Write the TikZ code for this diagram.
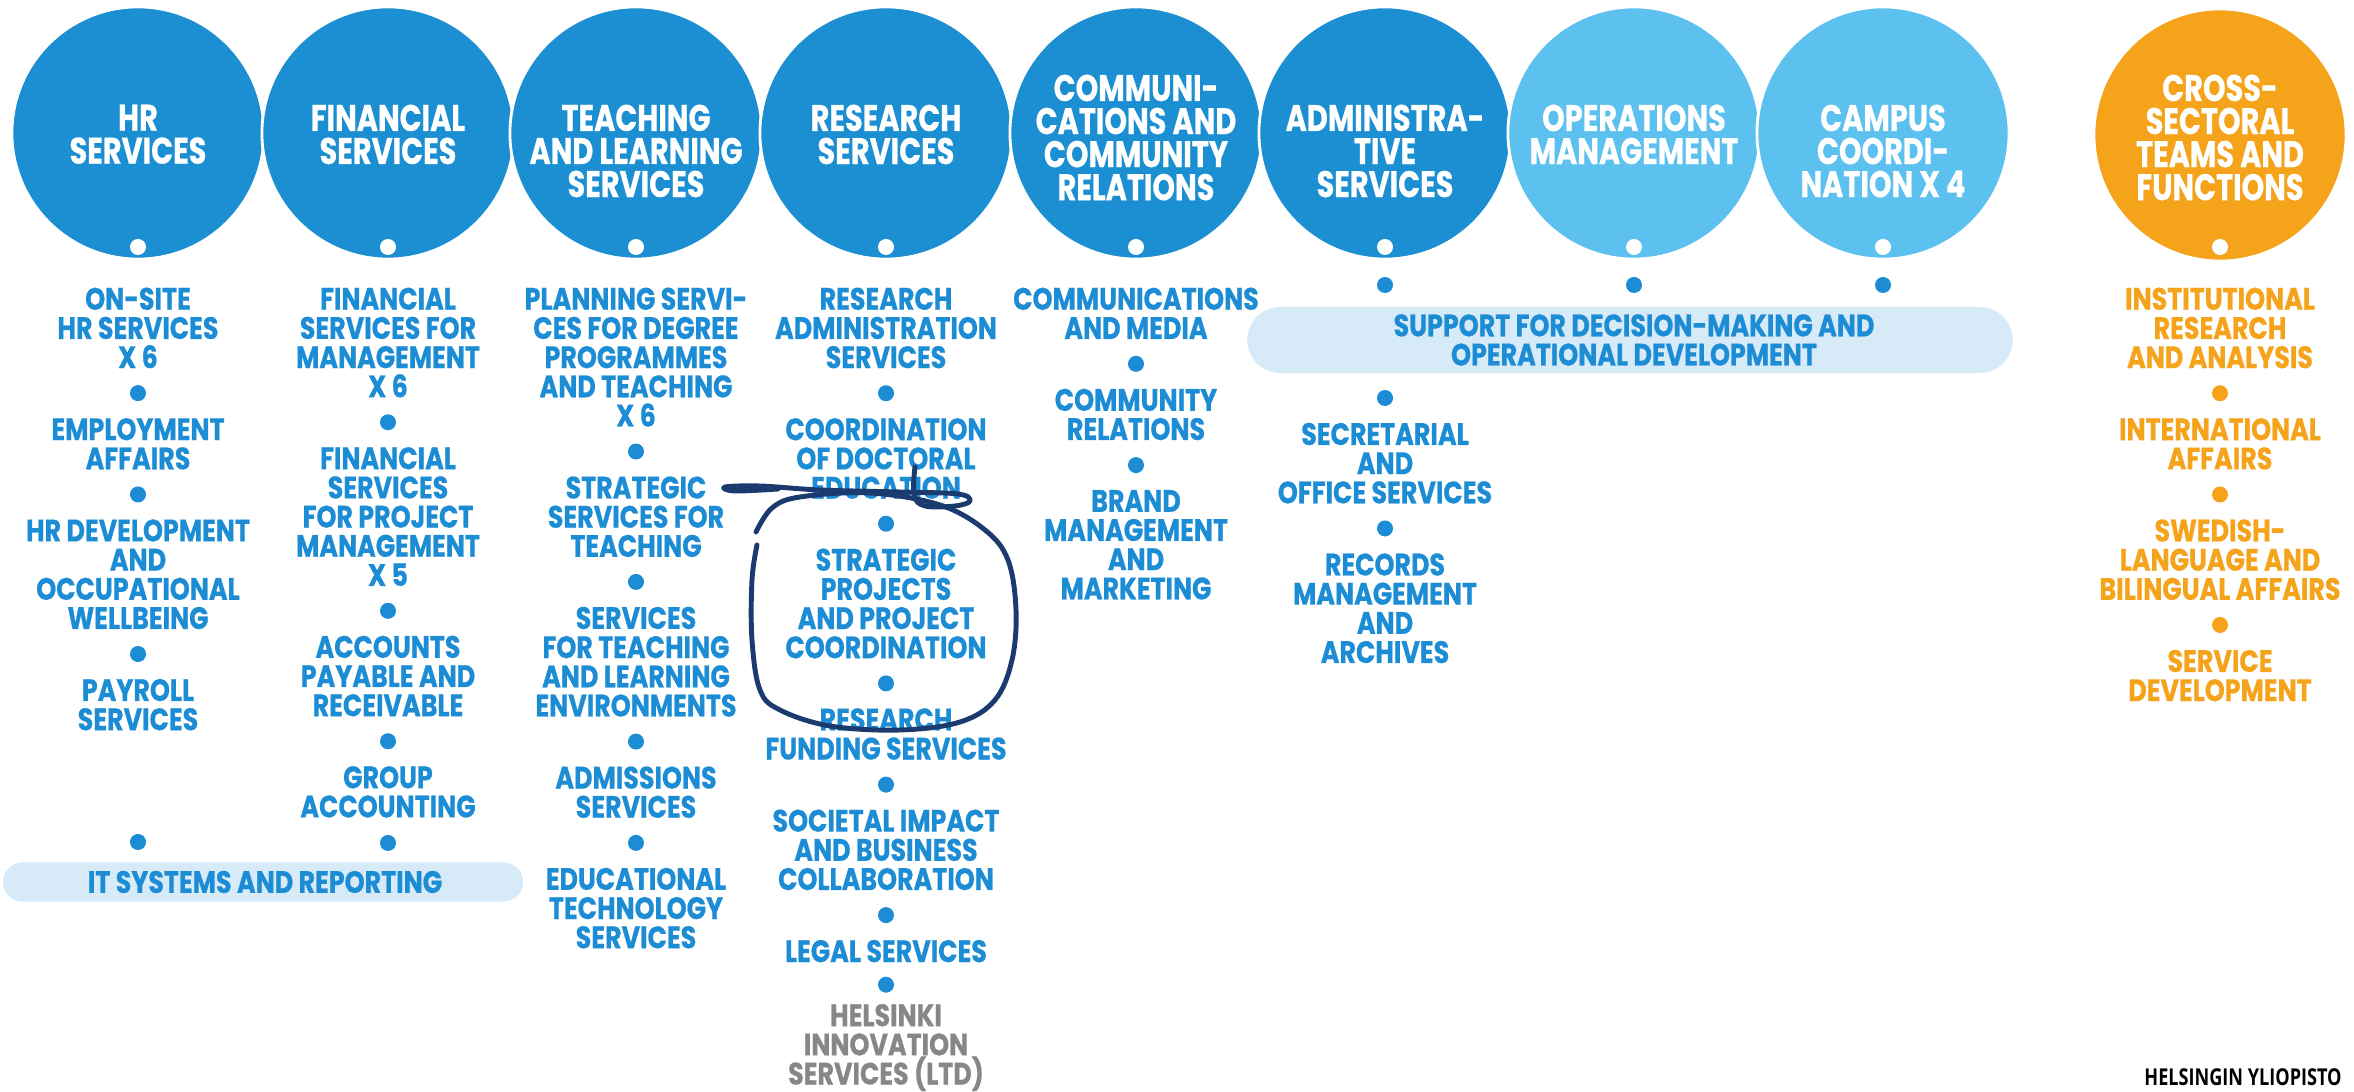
\documentclass[tikz,border=0pt]{standalone}
\usepackage{fontspec}
\usepackage{xcolor}
\usepackage{tikz}
\newfontfamily\orgfont{Poppins}[FakeStretch=0.82, BoldFeatures={FakeBold=0.6}]
\newfontfamily\hubfont{Poppins}[FakeStretch=0.78, BoldFeatures={FakeBold=0.6}]
\newfontfamily\logofont{Open Sans}[FakeStretch=0.78]
\usetikzlibrary{positioning,shapes.misc}

\definecolor{deepblue}{RGB}{27,143,210}
\definecolor{skyblue}{RGB}{92,193,238}
\definecolor{amber}{RGB}{244,163,27}
\definecolor{bartint}{RGB}{214,234,248}
\definecolor{inkblue}{RGB}{27,58,110}
\definecolor{itemblue}{RGB}{28,140,212}
\definecolor{itemgray}{RGB}{135,135,135}

\tikzset{
    hub/.style={circle, minimum size=2.52cm, inner sep=0pt, draw=white, line width=0.8pt},
    hubtext/.style={anchor=north, align=center, text=white, inner sep=0pt,
        font=\hubfont\bfseries\fontsize{10.5}{9.4}\selectfont},
    item/.style={align=center, inner sep=0pt, text=itemblue,
        font=\orgfont\bfseries\fontsize{8.8}{8.3}\selectfont},
    pip/.style={circle, fill=itemblue, minimum size=0.16cm, inner sep=0pt},
    hole/.style={circle, fill=white, minimum size=0.16cm, inner sep=0pt},
    band/.style={rounded rectangle, fill=bartint, inner sep=0pt},
    pen/.style={draw=inkblue, line width=1.4pt, line cap=round, line join=round},
    node distance=0.155cm
}

\begin{document}
\begin{tikzpicture}[x=0.01cm, y=-0.01cm]
    \useasboundingbox (0,0) rectangle (2354,1092);

    % Unit circles
    \node[hub, fill=deepblue] (hr) at (138,133) {};
    \node[hub, fill=deepblue] (fin) at (388,133) {};
    \node[hub, fill=deepblue] (teach) at (636,133) {};
    \node[hub, fill=deepblue] (res) at (886,133) {};
    \node[hub, fill=deepblue] (comm) at (1136,133) {};
    \node[hub, fill=deepblue] (adm) at (1385,133) {};
    \node[hub, fill=skyblue] (ops) at (1634,133) {};
    \node[hub, fill=skyblue] (camp) at (1883,133) {};
    \node[hub, fill=amber] (cross) at (2220,135) {};

    % Circle titles
    \node[hubtext] (hr-t) at (138,104) {HR\\SERVICES};
    \node[hubtext] (fin-t) at (388,104) {FINANCIAL\\SERVICES};
    \node[hubtext] (teach-t) at (636,104) {TEACHING\\AND LEARNING\\SERVICES};
    \node[hubtext] (res-t) at (886,104) {RESEARCH\\SERVICES};
    \node[hubtext] (comm-t) at (1136,74) {COMMUNI-\\CATIONS AND\\COMMUNITY\\RELATIONS};
    \node[hubtext] (adm-t) at (1385,104) {ADMINISTRA-\\TIVE\\SERVICES};
    \node[hubtext] (ops-t) at (1634,104) {OPERATIONS\\MANAGEMENT};
    \node[hubtext] (camp-t) at (1883,104) {CAMPUS\\COORDI-\\NATION X 4};
    \node[hubtext] (cross-t) at (2220,74) {CROSS-\\SECTORAL\\TEAMS AND\\FUNCTIONS};

    % White dots inside the circles
    \node[hole] at (138,247) {};
    \node[hole] at (388,247) {};
    \node[hole] at (636,247) {};
    \node[hole] at (886,247) {};
    \node[hole] at (1136,247) {};
    \node[hole] at (1385,247) {};
    \node[hole] at (1634,247) {};
    \node[hole] at (1883,247) {};
    \node[hole] at (2220,247) {};

    % HR services
    \node[item, anchor=north] (hr1) at (138,287) {ON-SITE\\HR SERVICES\\X 6};
    \node[pip, below=of hr1] (hr1p) {};
    \node[item, below=of hr1p] (hr2) {EMPLOYMENT\\AFFAIRS};
    \node[pip, below=of hr2] (hr2p) {};
    \node[item, below=of hr2p] (hr3) {HR DEVELOPMENT\\AND\\OCCUPATIONAL\\WELLBEING};
    \node[pip, below=of hr3] (hr3p) {};
    \node[item, below=of hr3p] (hr4) {PAYROLL\\SERVICES};
    \node[pip] (hr4p) at (138,842) {};

    % Financial services
    \node[item, anchor=north] (fin1) at (388,287) {FINANCIAL\\SERVICES FOR\\MANAGEMENT\\X 6};
    \node[pip, below=of fin1] (fin1p) {};
    \node[item, below=of fin1p] (fin2) {FINANCIAL\\SERVICES\\FOR PROJECT\\MANAGEMENT\\X 5};
    \node[pip, below=of fin2] (fin2p) {};
    \node[item, below=of fin2p] (fin3) {ACCOUNTS\\PAYABLE AND\\RECEIVABLE};
    \node[pip, below=of fin3] (fin3p) {};
    \node[item, below=of fin3p] (fin4) {GROUP\\ACCOUNTING};
    \node[pip] (fin4p) at (388,843) {};

    % IT systems band
    \node[band, minimum width=5.2cm, minimum height=0.39cm] (itband) at (263,882) {};
    \node[item] (it-t) at (265,882) {IT SYSTEMS AND REPORTING};

    % Teaching and learning services
    \node[item, anchor=north] (teach1) at (636,287) {PLANNING SERVI-\\CES FOR DEGREE\\PROGRAMMES\\AND TEACHING\\X 6};
    \node[pip, below=of teach1] (teach1p) {};
    \node[item, below=of teach1p] (teach2) {STRATEGIC\\SERVICES FOR\\TEACHING};
    \node[pip, below=of teach2] (teach2p) {};
    \node[item, below=of teach2p] (teach3) {SERVICES\\FOR TEACHING\\AND LEARNING\\ENVIRONMENTS};
    \node[pip, below=of teach3] (teach3p) {};
    \node[item, below=of teach3p] (teach4) {ADMISSIONS\\SERVICES};
    \node[pip, below=of teach4] (teach4p) {};
    \node[item, below=of teach4p] (teach5) {EDUCATIONAL\\TECHNOLOGY\\SERVICES};

    % Research services
    \node[item, anchor=north] (res1) at (886,287) {RESEARCH\\ADMINISTRATION\\SERVICES};
    \node[pip, below=of res1] (res1p) {};
    \node[item, below=of res1p] (res2) {COORDINATION\\OF DOCTORAL\\EDUCATION};
    \node[pip, below=of res2] (res2p) {};
    \node[item, below=of res2p] (res3) {STRATEGIC\\PROJECTS\\AND PROJECT\\COORDINATION};
    \node[pip, below=of res3] (res3p) {};
    \node[item, below=of res3p] (res4) {RESEARCH\\FUNDING SERVICES};
    \node[pip, below=of res4] (res4p) {};
    \node[item, below=of res4p] (res5) {SOCIETAL IMPACT\\AND BUSINESS\\COLLABORATION};
    \node[pip, below=of res5] (res5p) {};
    \node[item, below=of res5p] (res6) {LEGAL SERVICES};
    \node[pip, below=0.13cm of res6] (res6p) {};
    \node[item, text=itemgray, below=0.1cm of res6p] (res7) {HELSINKI\\INNOVATION\\SERVICES (LTD)};

    % Communications and community relations
    \node[item, anchor=north] (comm1) at (1136,287) {COMMUNICATIONS\\AND MEDIA};
    \node[pip, below=of comm1] (comm1p) {};
    \node[item, below=of comm1p] (comm2) {COMMUNITY\\RELATIONS};
    \node[pip, below=of comm2] (comm2p) {};
    \node[item, below=of comm2p] (comm3) {BRAND\\MANAGEMENT\\AND\\MARKETING};

    % Support band shared by three units
    \node[pip] (adm0) at (1385,285) {};
    \node[pip] (ops0) at (1634,285) {};
    \node[pip] (camp0) at (1883,285) {};
    \node[band, minimum width=7.65cm, minimum height=0.66cm] (supband) at (1630,340) {};
    \node[item] (sup-t) at (1634,340) {SUPPORT FOR DECISION-MAKING AND\\OPERATIONAL DEVELOPMENT};

    % Administrative services
    \node[pip] (adm1p) at (1385,398) {};
    \node[item, below=of adm1p] (adm1) {SECRETARIAL\\AND\\OFFICE SERVICES};
    \node[pip, below=of adm1] (adm2p) {};
    \node[item, below=of adm2p] (adm2) {RECORDS\\MANAGEMENT\\AND\\ARCHIVES};

    % Cross-sectoral teams
    \node[item, text=amber, anchor=north] (cross1) at (2220,287) {INSTITUTIONAL\\RESEARCH\\AND ANALYSIS};
    \node[pip, fill=amber, below=of cross1] (cross1p) {};
    \node[item, text=amber, below=of cross1p] (cross2) {INTERNATIONAL\\AFFAIRS};
    \node[pip, fill=amber, below=of cross2] (cross2p) {};
    \node[item, text=amber, below=of cross2p] (cross3) {SWEDISH-\\LANGUAGE AND\\BILINGUAL AFFAIRS};
    \node[pip, fill=amber, below=of cross3] (cross3p) {};
    \node[item, text=amber, below=of cross3p] (cross4) {SERVICE\\DEVELOPMENT};

    % Logo in the corner
    \node[anchor=north, inner sep=0pt, font=\logofont\bfseries\fontsize{6.6}{6.6}\selectfont] (logo) at (2243,1068) {HELSINGIN YLIOPISTO};

    % Hand-drawn ink marks
    \draw[pen] plot[smooth, tension=0.6] coordinates {(915,467) (914,495) (925,506) (955,506) (970,501) (958,494) (900,492) (820,490) (760,486) (725,487) (735,491) (778,489)};
    \draw[pen] plot[smooth, tension=0.6] coordinates {(756,532) (772,508) (800,497) (870,493) (940,505) (985,530) (1008,560) (1016,610) (1012,660) (995,700) (960,722) (900,730) (830,726) (780,710) (760,690) (752,640) (752,580) (757,545)};
\end{tikzpicture}
\end{document}
